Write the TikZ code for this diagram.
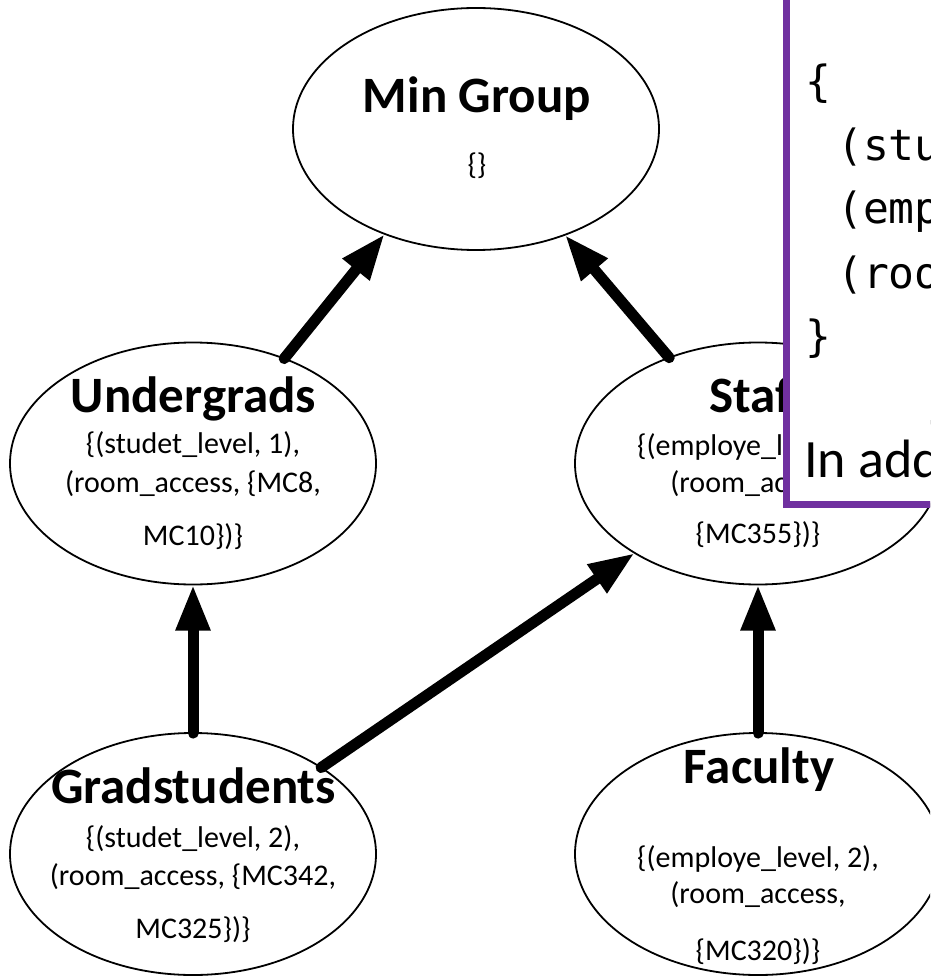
\documentclass[tikz,border=0pt]{standalone}
\usepackage{fontspec}
\setmainfont{Carlito}
\newfontfamily\codefont{DejaVu Sans Mono}
\usetikzlibrary{arrows.meta,shapes.geometric}
\definecolor{boxpurple}{RGB}{112,48,160}

\begin{document}
\begin{tikzpicture}[x=1pt,y=-1pt,
  group/.style={draw, ellipse, line width=1.8pt, minimum width=366pt,
    minimum height=242pt, inner sep=0pt, outer sep=0pt},
  grouptitle/.style={anchor=base, inner sep=0pt,
    font=\fontsize{51}{61}\selectfont\bfseries},
  attr/.style={anchor=base, inner sep=0pt, font=\fontsize{30}{36}\selectfont},
  code/.style={anchor=base west, inner sep=0pt,
    font=\fontsize{43}{52}\selectfont\codefont},
  note/.style={anchor=base west, inner sep=0pt, font=\fontsize{54}{64}\selectfont},
  link/.style={line width=11pt, line cap=round,
    -{Triangle[length=46pt,width=32pt]}},
]
\useasboundingbox (0,0) rectangle (930,976);
\clip (0,0) rectangle (930,976);

% group ellipses
\node[group] (min)     at (476,129)   {};
\node[group] (ugrad)   at (193,463.5) {};
\node[group] (staff)   at (758,463.5) {};
\node[group] (grad)    at (193,854)   {};
\node[group] (faculty) at (758,854)   {};

% Min Group
\node[grouptitle] (minT) at (477,113) {Min Group};
\node[attr] (minA) at (477,175) {\{\}};

% Undergrads
\node[grouptitle] (ugradT) at (193.5,412) {Undergrads};
\node[attr] (ugradA1) at (193,453) {\{(studet\_level, 1),};
\node[attr] (ugradA2) at (193,492) {(room\_access, \{MC8,};
\node[attr] (ugradA3) at (193,545) {MC10\})\}};

% Staff
\node[grouptitle] (staffT) at (758,412) {Staff};
\node[attr] (staffA1) at (758,455) {\{(employe\_level, 1),};
\node[attr] (staffA2) at (758,492) {(room\_access,};
\node[attr] (staffA3) at (758,543) {\{MC355\})\}};

% Gradstudents
\node[grouptitle] (gradT) at (193.5,803) {Gradstudents};
\node[attr] (gradA1) at (193,847) {\{(studet\_level, 2),};
\node[attr] (gradA2) at (193,885) {(room\_access, \{MC342,};
\node[attr] (gradA3) at (193,938) {MC325\})\}};

% Faculty
\node[grouptitle] (facultyT) at (759,783) {Faculty};
\node[attr] (facultyA1) at (758,867) {\{(employe\_level, 2),};
\node[attr] (facultyA2) at (758,903) {(room\_access,};
\node[attr] (facultyA3) at (758,960) {\{MC320\})\}};

% hierarchy links
\draw[link] (ugrad.49.8)   -- (min.229.4);
\draw[link] (staff.130.2)  -- (min.310.6);
\draw[link] (grad.90)      -- (ugrad.270);
\draw[link] (grad.34.5)    -- (staff.216.9);
\draw[link] (faculty.90)   -- (staff.270);

% overlaid code box
\draw[boxpurple, line width=7pt, fill=white] (786.5,-20) rectangle (980,504);
\node[code] (c0) at (805,97)  {\{};
\node[code] (c1) at (837,161) {(stu};
\node[code] (c2) at (837,224) {(emp};
\node[code] (c3) at (837,288) {(roo};
\node[code] (c4) at (805,351) {\}};
\node[note] (c5) at (804,477) {In add};
\end{tikzpicture}
\end{document}
